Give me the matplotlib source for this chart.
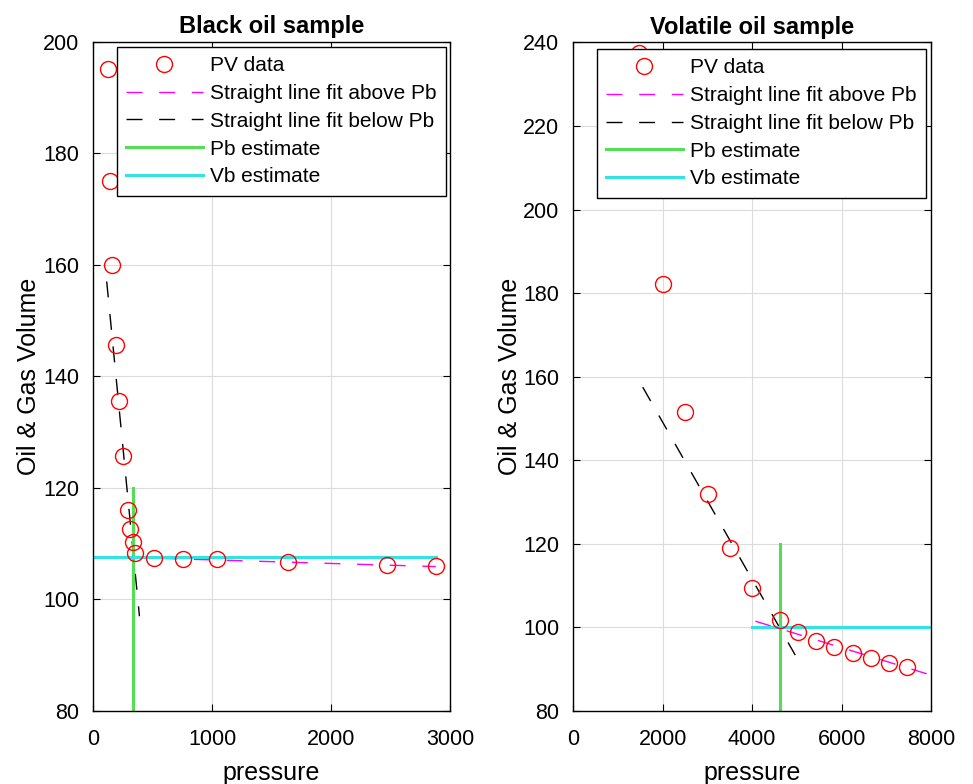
import numpy as np
import matplotlib
matplotlib.use("Agg")
import matplotlib.pyplot as plt

plt.rcParams['font.family'] = ['Liberation Sans', 'DejaVu Sans']

# Black oil sample
black_p = [123, 143, 162, 190, 221, 255, 297, 311, 334, 353, 515, 754, 1045, 1636, 2473, 2880]
black_v = [195.0, 175.0, 160.0, 145.6, 135.6, 125.8, 116.0, 112.7, 110.3, 108.4,
           107.4, 107.3, 107.2, 106.7, 106.1, 105.95]
black_above_p = [300, 2880]
black_above_v = [107.55, 105.9]
black_below_p = [115, 390]
black_below_v = [157.0, 97.0]
black_pb = 339
black_pb_v = [80, 120]
black_vb = 107.6
black_vb_p = [0, 2880]

# Volatile oil sample
vol_p = [1480, 2000, 2497, 3015, 3504, 4000, 4615, 5022, 5430, 5838, 6245, 6652, 7060, 7460]
vol_v = [237.5, 182.3, 151.5, 132.0, 118.9, 109.5, 101.7, 99.0, 96.8, 95.4, 93.9, 92.7, 91.6, 90.6]
vol_above_p = [4074, 8000]
vol_above_v = [101.5, 88.6]
vol_below_p = [1556, 4963]
vol_below_v = [157.5, 93.4]
vol_pb = 4615
vol_pb_v = [80, 120]
vol_vb = 100.0
vol_vb_p = [4000, 8000]

fig = plt.figure(figsize=(9.73, 7.84), dpi=100)
ax1 = fig.add_axes([0.0956, 0.093, 0.367, 0.854])
ax2 = fig.add_axes([0.589, 0.093, 0.368, 0.853])

dash = (11.5, 12)


def draw(ax, p, v, ap, av, bp, bv, pb, pbv, vb, vbp, title, xlim, ylim, xticks, yticks, anchor):
    ax.plot(p, v, 'o', mfc='none', mec='red', ms=11.5, mew=1.0, label='PV data', zorder=3)
    ax.plot(ap, av, '--', color='magenta', lw=1.0, dashes=dash, label='Straight line fit above Pb')
    ax.plot(bp, bv, '--', color='black', lw=1.0, dashes=dash, label='Straight line fit below Pb')
    ax.plot([pb, pb], pbv, '-', color='#55dd55', lw=2.2, label='Pb estimate')
    ax.plot(vbp, [vb, vb], '-', color='#33e3e3', lw=2.2, label='Vb estimate')
    ax.set_xlim(xlim)
    ax.set_ylim(ylim)
    ax.set_xticks(xticks)
    ax.set_yticks(yticks)
    ax.grid(True, color='#dcdcdc', lw=0.8)
    ax.set_axisbelow(True)
    ax.tick_params(direction='in', top=True, right=True, labelsize=15.5, length=5)
    ax.tick_params(axis='y', pad=10)
    ax.tick_params(axis='x', pad=13)
    ax.set_title(title, fontsize=17, fontweight='bold', pad=6)
    ax.set_xlabel('pressure', fontsize=18, labelpad=8)
    ax.set_ylabel('Oil & Gas Volume', fontsize=18, labelpad=1)
    for s in ax.spines.values():
        s.set_linewidth(1.0)
    leg = ax.legend(loc='upper right', bbox_to_anchor=anchor, fontsize=15,
                    handlelength=3.7, handletextpad=0.35, borderpad=0.45,
                    labelspacing=0.42, borderaxespad=0, fancybox=False,
                    framealpha=1, edgecolor='black')
    leg.get_frame().set_linewidth(1.0)
    leg.set_zorder(10)


draw(ax1, black_p, black_v, black_above_p, black_above_v, black_below_p, black_below_v,
     black_pb, black_pb_v, black_vb, black_vb_p, 'Black oil sample',
     (0, 3000), (80, 200), [0, 1000, 2000, 3000], range(80, 201, 20), (0.989, 0.992))
draw(ax2, vol_p, vol_v, vol_above_p, vol_above_v, vol_below_p, vol_below_v,
     vol_pb, vol_pb_v, vol_vb, vol_vb_p, 'Volatile oil sample',
     (0, 8000), (80, 240), [0, 2000, 4000, 6000, 8000], range(80, 241, 20), (0.986, 0.99))

fig.savefig('out.png', dpi=100)
